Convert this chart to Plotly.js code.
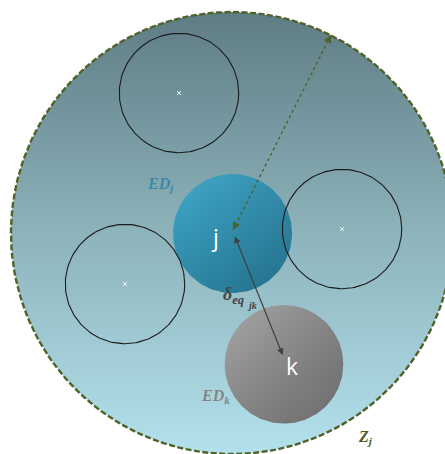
<!DOCTYPE html>
<html>
<head>
<meta charset="utf-8">
<script src="https://cdn.plot.ly/plotly-3.0.1.min.js"></script>
<style>html,body{margin:0;padding:0;background:#fff;}#chart{width:445px;height:454px;}</style>
</head>
<body>
<div id="chart"></div>
<script>
// ---- data (diagram units, y upward) ----
const zoneCenter = [232, 221];
const zoneRadius = 221;
const nodeNames = ['j', 'k'];
const nodeX = [232.5, 284];
const nodeY = [220.5, 89.7];
const nodeRadius = [59.5, 59.3];
const otherX = [179, 342, 125];
const otherY = [361, 225, 170];
const otherRadius = [59.7, 59.7, 59.7];
const zoneArrowFrom = [331, 419];
const zoneArrowTo = [233, 224];
const distArrowFrom = [234.3, 219];
const distArrowTo = [282.7, 99];
const labelTexts = ['<b><i>ED<sub>j</sub></i></b>', '<b><i>ED<sub>k</sub></i></b>', '<b><i>Z<sub>j</sub></i></b>'];
const labelX = [160, 215, 365];
const labelY = [270, 58, 17];

function circle(cx, cy, r) {
  const xs = [], ys = [];
  for (let i = 0; i <= 180; i++) {
    const a = 2 * Math.PI * i / 180;
    xs.push(cx + r * Math.cos(a));
    ys.push(cy + r * Math.sin(a));
  }
  return {xs, ys};
}

const traces = [];
// zone
const zc = circle(zoneCenter[0], zoneCenter[1], zoneRadius);
traces.push({
  x: zc.xs, y: zc.ys, type: 'scatter', mode: 'lines', fill: 'toself',
  fillgradient: {type: 'vertical', colorscale: [[0, '#b3e1ec'], [0.5, '#8db3bb'], [1, '#5f7c84']]},
  line: {color: '#4f6228', width: 2.4, dash: '6px,2.5px'}, hoverinfo: 'skip'
});
// nodes j, k
const nodeBase = [[[0, '#2c86a3'], [1, '#42aacb']], [[0, '#858585'], [1, '#a6a6a6']]];
const nodeShade = [[[0, 'rgba(0,30,50,0)'], [1, 'rgba(0,30,50,0.22)']], [[0, 'rgba(0,0,0,0)'], [1, 'rgba(0,0,0,0.2)']]];
for (let i = 0; i < nodeNames.length; i++) {
  const c = circle(nodeX[i], nodeY[i], nodeRadius[i]);
  traces.push({x: c.xs, y: c.ys, type: 'scatter', mode: 'lines', fill: 'toself',
    fillgradient: {type: 'vertical', colorscale: nodeBase[i]},
    line: {width: 0, color: 'rgba(0,0,0,0)'}, hoverinfo: 'skip'});
  traces.push({x: c.xs, y: c.ys, type: 'scatter', mode: 'lines', fill: 'toself',
    fillgradient: {type: 'horizontal', colorscale: nodeShade[i]},
    line: {width: 0, color: 'rgba(0,0,0,0)'}, hoverinfo: 'skip'});
}
// other hollow circles
for (let i = 0; i < otherX.length; i++) {
  const c = circle(otherX[i], otherY[i], otherRadius[i]);
  traces.push({x: c.xs, y: c.ys, type: 'scatter', mode: 'lines',
    line: {color: '#1c1c1c', width: 1.1}, hoverinfo: 'skip'});
}
traces.push({x: otherX, y: otherY, type: 'scatter', mode: 'markers',
  marker: {symbol: 'x-thin', size: 4, line: {color: '#e6eef0', width: 1}}, hoverinfo: 'skip'});
// zone dotted arrow line
traces.push({x: [zoneArrowFrom[0], zoneArrowTo[0]], y: [zoneArrowFrom[1], zoneArrowTo[1]],
  type: 'scatter', mode: 'lines', line: {color: '#4f6228', width: 1.4, dash: 'dot'}, hoverinfo: 'skip'});

function headAnn(tip, from, color) {
  const dx = from[0] - tip[0], dy = from[1] - tip[1];
  const L = Math.hypot(dx, dy);
  return {x: tip[0], y: tip[1], ax: tip[0] + dx / L * 4, ay: tip[1] + dy / L * 4,
    xref: 'x', yref: 'y', axref: 'x', ayref: 'y', text: '', showarrow: true,
    arrowhead: 2, arrowsize: 1.2, arrowwidth: 1.3, arrowcolor: color};
}

const annotations = [
  headAnn(zoneArrowFrom, zoneArrowTo, '#4f6228'),
  headAnn(zoneArrowTo, zoneArrowFrom, '#4f6228'),
  {x: distArrowTo[0], y: distArrowTo[1], ax: distArrowFrom[0], ay: distArrowFrom[1],
    xref: 'x', yref: 'y', axref: 'x', ayref: 'y', text: '', showarrow: true,
    arrowhead: 2, startarrowhead: 2, arrowside: 'end+start', arrowsize: 1.1, startarrowsize: 1.1,
    arrowwidth: 1.2, arrowcolor: '#3f3f3f'},
  {x: nodeX[0] - 18, y: nodeY[0] - 3, text: nodeNames[0], showarrow: false,
    font: {family: 'Open Sans', size: 23, color: '#ffffff'}},
  {x: nodeX[1] + 8, y: nodeY[1] - 1.5, text: nodeNames[1], showarrow: false,
    font: {family: 'Open Sans', size: 23, color: '#ffffff'}},
  {x: labelX[0], y: labelY[0], text: labelTexts[0], showarrow: false,
    font: {family: 'Liberation Serif', size: 16, color: '#3a8aa7'}},
  {x: labelX[1], y: labelY[1], text: labelTexts[1], showarrow: false,
    font: {family: 'Liberation Serif', size: 16, color: '#858585'}},
  {x: labelX[2], y: labelY[2], text: labelTexts[2], showarrow: false,
    font: {family: 'Liberation Serif', size: 16, color: '#4f5a26'}},
  {x: 233, y: 159, text: '<b><i>δ<sub>eq</sub></i></b>', showarrow: false,
    font: {family: 'Liberation Serif', size: 18, color: '#454545'}},
  {x: 252, y: 149, text: '<b><i>jk</i></b>', showarrow: false,
    font: {family: 'Liberation Serif', size: 10, color: '#454545'}}
];

const layout = {
  width: 445, height: 454,
  margin: {l: 0, r: 0, t: 0, b: 0},
  paper_bgcolor: '#ffffff', plot_bgcolor: '#ffffff',
  showlegend: false,
  xaxis: {range: [0, 445], visible: false, fixedrange: true},
  yaxis: {range: [0, 454], visible: false, fixedrange: true},
  annotations: annotations
};
Plotly.newPlot('chart', traces, layout, {displayModeBar: false, staticPlot: true});
</script>
</body>
</html>
